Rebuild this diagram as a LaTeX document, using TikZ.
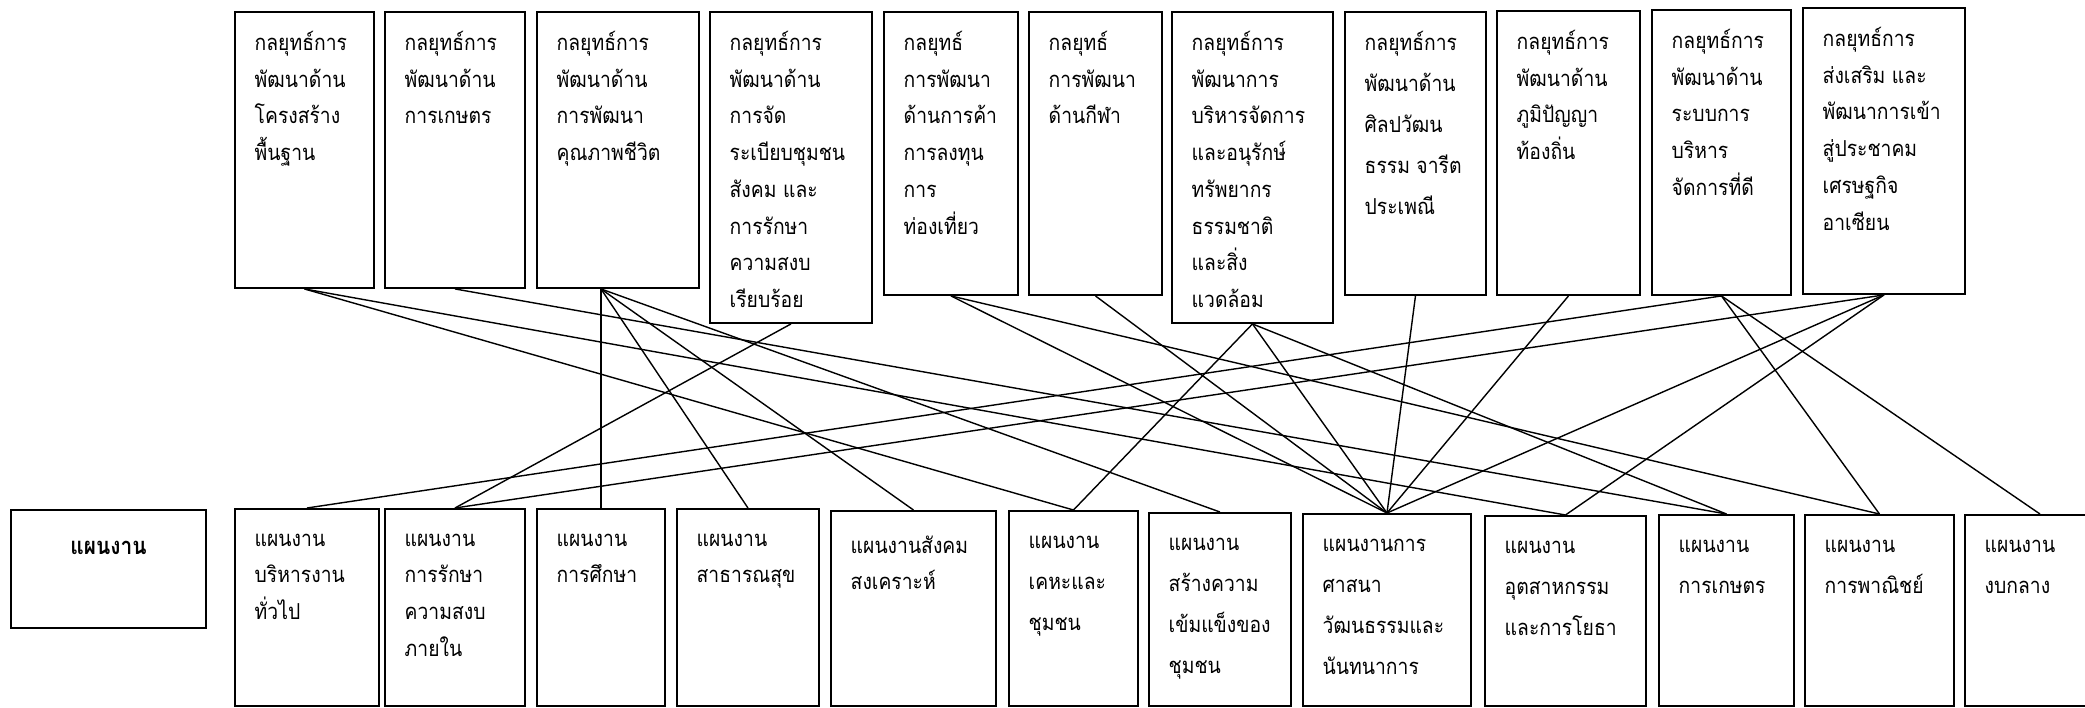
\documentclass[tikz,border=0pt]{standalone}
\usepackage{fontspec}
\newfontfamily\thaifont[Script=Thai, FakeStretch=0.88]{Loma}
\tikzset{every picture/.style={line width=0.8pt}}
\tikzset{
  box/.style 2 args={draw, line width=1.1pt, anchor=north west, inner sep=0pt,
    minimum width=#1*0.02cm, minimum height=#2*0.02cm},
  txt/.style={anchor=north west, align=left, inner xsep=0.4cm, inner ysep=0.39cm,
    font=\thaifont\fontsize{12.5}{20.9}\selectfont},
  low/.style={txt, inner ysep=0.5cm},
  lowwide/.style={low, font=\thaifont\fontsize{12.5}{23.4}\selectfont},
  txtwide/.style={txt, font=\thaifont\fontsize{12.5}{23.4}\selectfont},
  head/.style={anchor=north, inner ysep=0.62cm, font=\thaifont\bfseries\fontsize{13.5}{15}\selectfont}
}

\begin{document}
\begin{tikzpicture}[x=0.02cm, y=-0.02cm]
    \useasboundingbox (0,0) rectangle (2085,707);
    \node[box={139}{276}, label={[txt]north west:{กลยุทธ์การ\\พัฒนาด้าน\\โครงสร้าง\\พื้นฐาน}}] (S1) at (234,11) {};
    \node[box={140}{276}, label={[txt]north west:{กลยุทธ์การ\\พัฒนาด้าน\\การเกษตร}}] (S2) at (384,11) {};
    \node[box={162}{276}, label={[txt]north west:{กลยุทธ์การ\\พัฒนาด้าน\\การพัฒนา\\คุณภาพชีวิต}}] (S3) at (536,11) {};
    \node[box={162}{311}, label={[txt]north west:{กลยุทธ์การ\\พัฒนาด้าน\\การจัด\\ระเบียบชุมชน\\สังคม และ\\การรักษา\\ความสงบ\\เรียบร้อย}}] (S4) at (709,11) {};
    \node[box={134}{283}, label={[txt]north west:{กลยุทธ์\\การพัฒนา\\ด้านการค้า\\การลงทุน\\การ\\ท่องเที่ยว}}] (S5) at (883,11) {};
    \node[box={133}{283}, label={[txt]north west:{กลยุทธ์\\การพัฒนา\\ด้านกีฬา}}] (S6) at (1028,11) {};
    \node[box={161}{311}, label={[txt]north west:{กลยุทธ์การ\\พัฒนาการ\\บริหารจัดการ\\และอนุรักษ์\\ทรัพยากร\\ธรรมชาติ\\และสิ่ง\\แวดล้อม}}] (S7) at (1171,11) {};
    \node[box={141}{283}, label={[txtwide]north west:{กลยุทธ์การ\\พัฒนาด้าน\\ศิลปวัฒน\\ธรรม จารีต\\ประเพณี}}] (S8) at (1344,11) {};
    \node[box={143}{284}, label={[txt]north west:{กลยุทธ์การ\\พัฒนาด้าน\\ภูมิปัญญา\\ท้องถิ่น}}] (S9) at (1496,10) {};
    \node[box={139}{285}, label={[txt]north west:{กลยุทธ์การ\\พัฒนาด้าน\\ระบบการ\\บริหาร\\จัดการที่ดี}}] (S10) at (1651,9) {};
    \node[box={162}{286}, label={[txt]north west:{กลยุทธ์การ\\ส่งเสริม และ\\พัฒนาการเข้า\\สู่ประชาคม\\เศรษฐกิจ\\อาเซียน}}] (S11) at (1802,7) {};

    \node[box={195}{118}, label={[head]north:แผนงาน}] (P0) at (10,509) {};
    \node[box={144}{197}, label={[low]north west:{แผนงาน\\บริหารงาน\\ทั่วไป}}] (P1) at (234,508) {};
    \node[box={140}{197}, label={[low]north west:{แผนงาน\\การรักษา\\ความสงบ\\ภายใน}}] (P2) at (384,508) {};
    \node[box={128}{197}, label={[low]north west:{แผนงาน\\การศึกษา}}] (P3) at (536,508) {};
    \node[box={142}{197}, label={[low]north west:{แผนงาน\\สาธารณสุข}}] (P4) at (676,508) {};
    \node[box={165}{195}, label={[low]north west:{แผนงานสังคม\\สงเคราะห์}}] (P5) at (830,510) {};
    \node[box={129}{195}, label={[lowwide]north west:{แผนงาน\\เคหะและ\\ชุมชน}}] (P6) at (1008,510) {};
    \node[box={142}{193}, label={[lowwide]north west:{แผนงาน\\สร้างความ\\เข้มแข็งของ\\ชุมชน}}] (P7) at (1148,512) {};
    \node[box={168}{192}, label={[lowwide]north west:{แผนงานการ\\ศาสนา\\วัฒนธรรมและ\\นันทนาการ}}] (P8) at (1302,513) {};
    \node[box={161}{190}, label={[lowwide]north west:{แผนงาน\\อุตสาหกรรม\\และการโยธา}}] (P9) at (1484,515) {};
    \node[box={135}{191}, label={[lowwide]north west:{แผนงาน\\การเกษตร}}] (P10) at (1658,514) {};
    \node[box={149}{191}, label={[lowwide]north west:{แผนงาน\\การพาณิชย์}}] (P11) at (1804,514) {};
    \node[box={150}{191}, label={[lowwide]north west:{แผนงาน\\งบกลาง}}] (P12) at (1964,514) {};

    \coordinate (S3b) at (P3.north |- S3.south);
    \draw (S1.south) -- (P6.north);
    \draw (S1.south) -- (P9.north);
    \draw (S2.south) -- (P10.north);
    \draw (S3b) -- (P3.north);
    \draw (S3b) -- (P4.north);
    \draw (S3b) -- (P5.north);
    \draw (S3b) -- (P7.north);
    \draw (S4.south) -- (P2.north);
    \draw (S5.south) -- (P8.north);
    \draw (S5.south) -- (P11.north);
    \draw (S6.south) -- (P8.north);
    \draw (S7.south) -- (P6.north);
    \draw (S7.south) -- (P8.north);
    \draw (S7.south) -- (P10.north);
    \draw (S8.south) -- (P8.north);
    \draw (S9.south) -- (P8.north);
    \draw (S10.south) -- (P1.north);
    \draw (S10.south) -- (P11.north);
    \draw (S10.south) -- (P12.north);
    \draw (S11.south) -- (P2.north);
    \draw (S11.south) -- (P8.north);
    \draw (S11.south) -- (P9.north);
\end{tikzpicture}
\end{document}
